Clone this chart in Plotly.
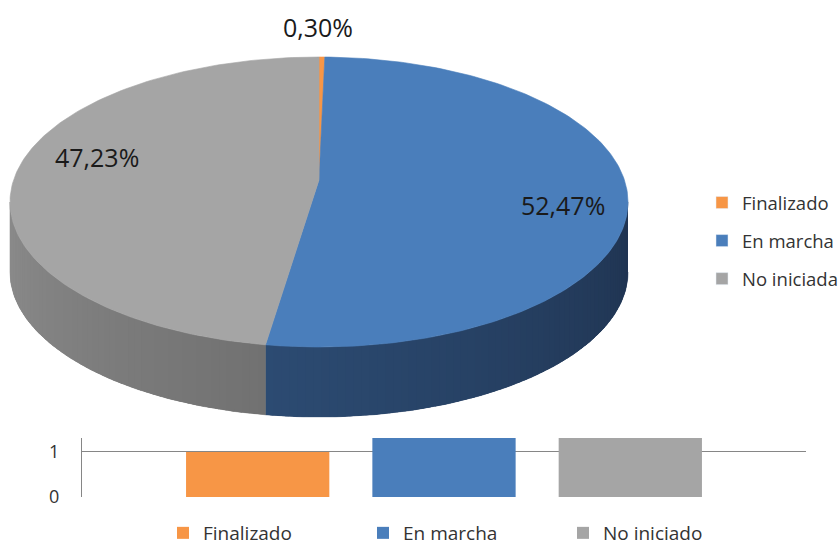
import numpy as np
import plotly.graph_objects as go

# ---------------- data ----------------
pie_categories = ["Finalizado", "En marcha", "No iniciada"]
pie_pct = [0.30, 52.47, 47.23]
bar_categories = ["Finalizado", "En marcha", "No iniciado"]
bar_values = [1, 177, 159]
y_tick_vals = [0, 1]

colors = ["#F79646", "#4A7EBB", "#A5A5A5"]
# side shading (start colour, end colour) along angle
side_shades = [("#B86A30", "#B86A30"), ("#1F3350", "#2C4B72"), ("#717171", "#8C8C8C")]

# ---------------- geometry of the 3D pie (pixel-like units) ----------------
CX, CY, RX, RY, DEPTH = 319, 202, 309, 145, 70
APEX_Y = 180  # perspective: the pie centre sits a little above the rim ellipse centre


def arc(a, b, dy=0, n=None):
    if n is None:
        n = max(2, int(abs(b - a) / 1.0) + 2)
    t = np.radians(np.linspace(a, b, n))
    return CX + RX * np.sin(t), CY - RY * np.cos(t) + dy


def hex_to_rgb(h):
    h = h.lstrip("#")
    return np.array([int(h[i:i + 2], 16) for i in (0, 2, 4)], dtype=float)


def lerp(c1, c2, f):
    c = hex_to_rgb(c1) * (1 - f) + hex_to_rgb(c2) * f
    return "rgb(%d,%d,%d)" % tuple(np.round(c).astype(int))


total = sum(pie_pct)
spans = [v / total * 360 for v in pie_pct]
starts = np.concatenate([[0], np.cumsum(spans)[:-1]])

fig = go.Figure()

# side walls (front half only: 90..270 deg)
for i, (s, sp) in enumerate(zip(starts, spans)):
    a, b = max(s, 90), min(s + sp, 270)
    if b <= a:
        continue
    xt, yt = arc(a, b)
    xb, yb = arc(b, a, DEPTH)
    cm = lerp(side_shades[i][0], side_shades[i][1], 0.5)
    fig.add_trace(go.Scatter(
        x=np.concatenate([xt, xb]), y=np.concatenate([yt, yb]),
        mode="lines", fill="toself", fillcolor=cm, line=dict(color=cm, width=0.5),
        hoverinfo="skip", showlegend=False, xaxis="x", yaxis="y"))
    steps = np.linspace(a, b, int((b - a) / 1.5) + 2)
    for j in range(len(steps) - 1):
        t0, t1 = steps[j], min(steps[j + 1] + 0.8, b)
        xt, yt = arc(t0, t1, 0, 4)
        xb, yb = arc(t1, t0, DEPTH, 4)
        f = (0.5 * (steps[j] + steps[j + 1]) - a) / (b - a)
        c = lerp(side_shades[i][0], side_shades[i][1], f)
        fig.add_trace(go.Scatter(
            x=np.concatenate([xt, xb]), y=np.concatenate([yt, yb]),
            mode="none", fill="toself", fillcolor=c,
            hoverinfo="skip", showlegend=False, xaxis="x", yaxis="y"))

# top faces
for i, (s, sp) in enumerate(zip(starts, spans)):
    xa, ya = arc(s, s + sp)
    fig.add_trace(go.Scatter(
        x=np.concatenate([[CX], xa, [CX]]), y=np.concatenate([[APEX_Y], ya, [APEX_Y]]),
        mode="lines", fill="toself", fillcolor=colors[i],
        line=dict(color=colors[i], width=0.6), hoverinfo="skip", showlegend=False,
        xaxis="x", yaxis="y"))

# pie legend entries (right)
for i, name in enumerate(pie_categories):
    fig.add_trace(go.Bar(x=[None], y=[None], name=name, marker_color=colors[i],
                         legend="legend2", legendgroup="p%d" % i,
                         xaxis="x", yaxis="y", hoverinfo="skip"))

# pie labels
fmt = lambda v: ("%.2f" % v).replace(".", ",") + "%"
label_pos = [(318, 27), (563, 205), (97, 157)]
for v, (lx, ly) in zip(pie_pct, label_pos):
    fig.add_annotation(x=lx, y=ly, xref="x", yref="y", text=fmt(v), showarrow=False,
                       font=dict(family="Open Sans", size=25, color="#1a1a1a"))

# ---------------- bar chart ----------------
for i, (name, v) in enumerate(zip(bar_categories, bar_values)):
    fig.add_trace(go.Bar(x=[""], y=[v], name=name, marker_color=colors[i],
                         marker_line_width=0, xaxis="x2", yaxis="y2",
                         legend="legend", hoverinfo="skip"))

W, H = 838, 546
fig.update_layout(
    width=W, height=H, margin=dict(l=0, r=0, t=0, b=0, autoexpand=False),
    paper_bgcolor="white", plot_bgcolor="rgba(0,0,0,0)",
    barmode="group", bargap=0.228, bargroupgap=0.231,
    xaxis=dict(domain=[0, 1], range=[0, W], visible=False, fixedrange=True),
    yaxis=dict(domain=[0, 1], range=[H, 0], visible=False, fixedrange=True),
    xaxis2=dict(domain=[82 / W, 806 / W], anchor="y2", showticklabels=False,
                showgrid=False, zeroline=False, showline=False),
    yaxis2=dict(domain=[(H - 497) / H, (H - 438) / H], anchor="x2", range=[0, 1.31],
                tickvals=y_tick_vals, showgrid=True, gridcolor="#868686", gridwidth=1.2,
                zeroline=False, showline=True, linecolor="#868686", linewidth=1.2,
                ticklabelstandoff=18,
                tickfont=dict(family="Open Sans", size=18, color="#333333")),
    legend=dict(orientation="h", x=163 / W, xanchor="left", y=(H - 533) / H, yanchor="middle",
                font=dict(family="Open Sans", size=19, color="#333333"),
                entrywidth=155, entrywidthmode="pixels", bgcolor="rgba(0,0,0,0)"),
    legend2=dict(orientation="v", x=702 / W, xanchor="left", y=(H - 184) / H, yanchor="top",
                 font=dict(family="Open Sans", size=18.5, color="#333333"),
                 tracegroupgap=11, bgcolor="rgba(0,0,0,0)"),
    showlegend=True,
)

fig.write_html("out.html", config={"displayModeBar": False},
               post_script="document.body.style.margin='0';document.body.style.overflow='hidden';")
